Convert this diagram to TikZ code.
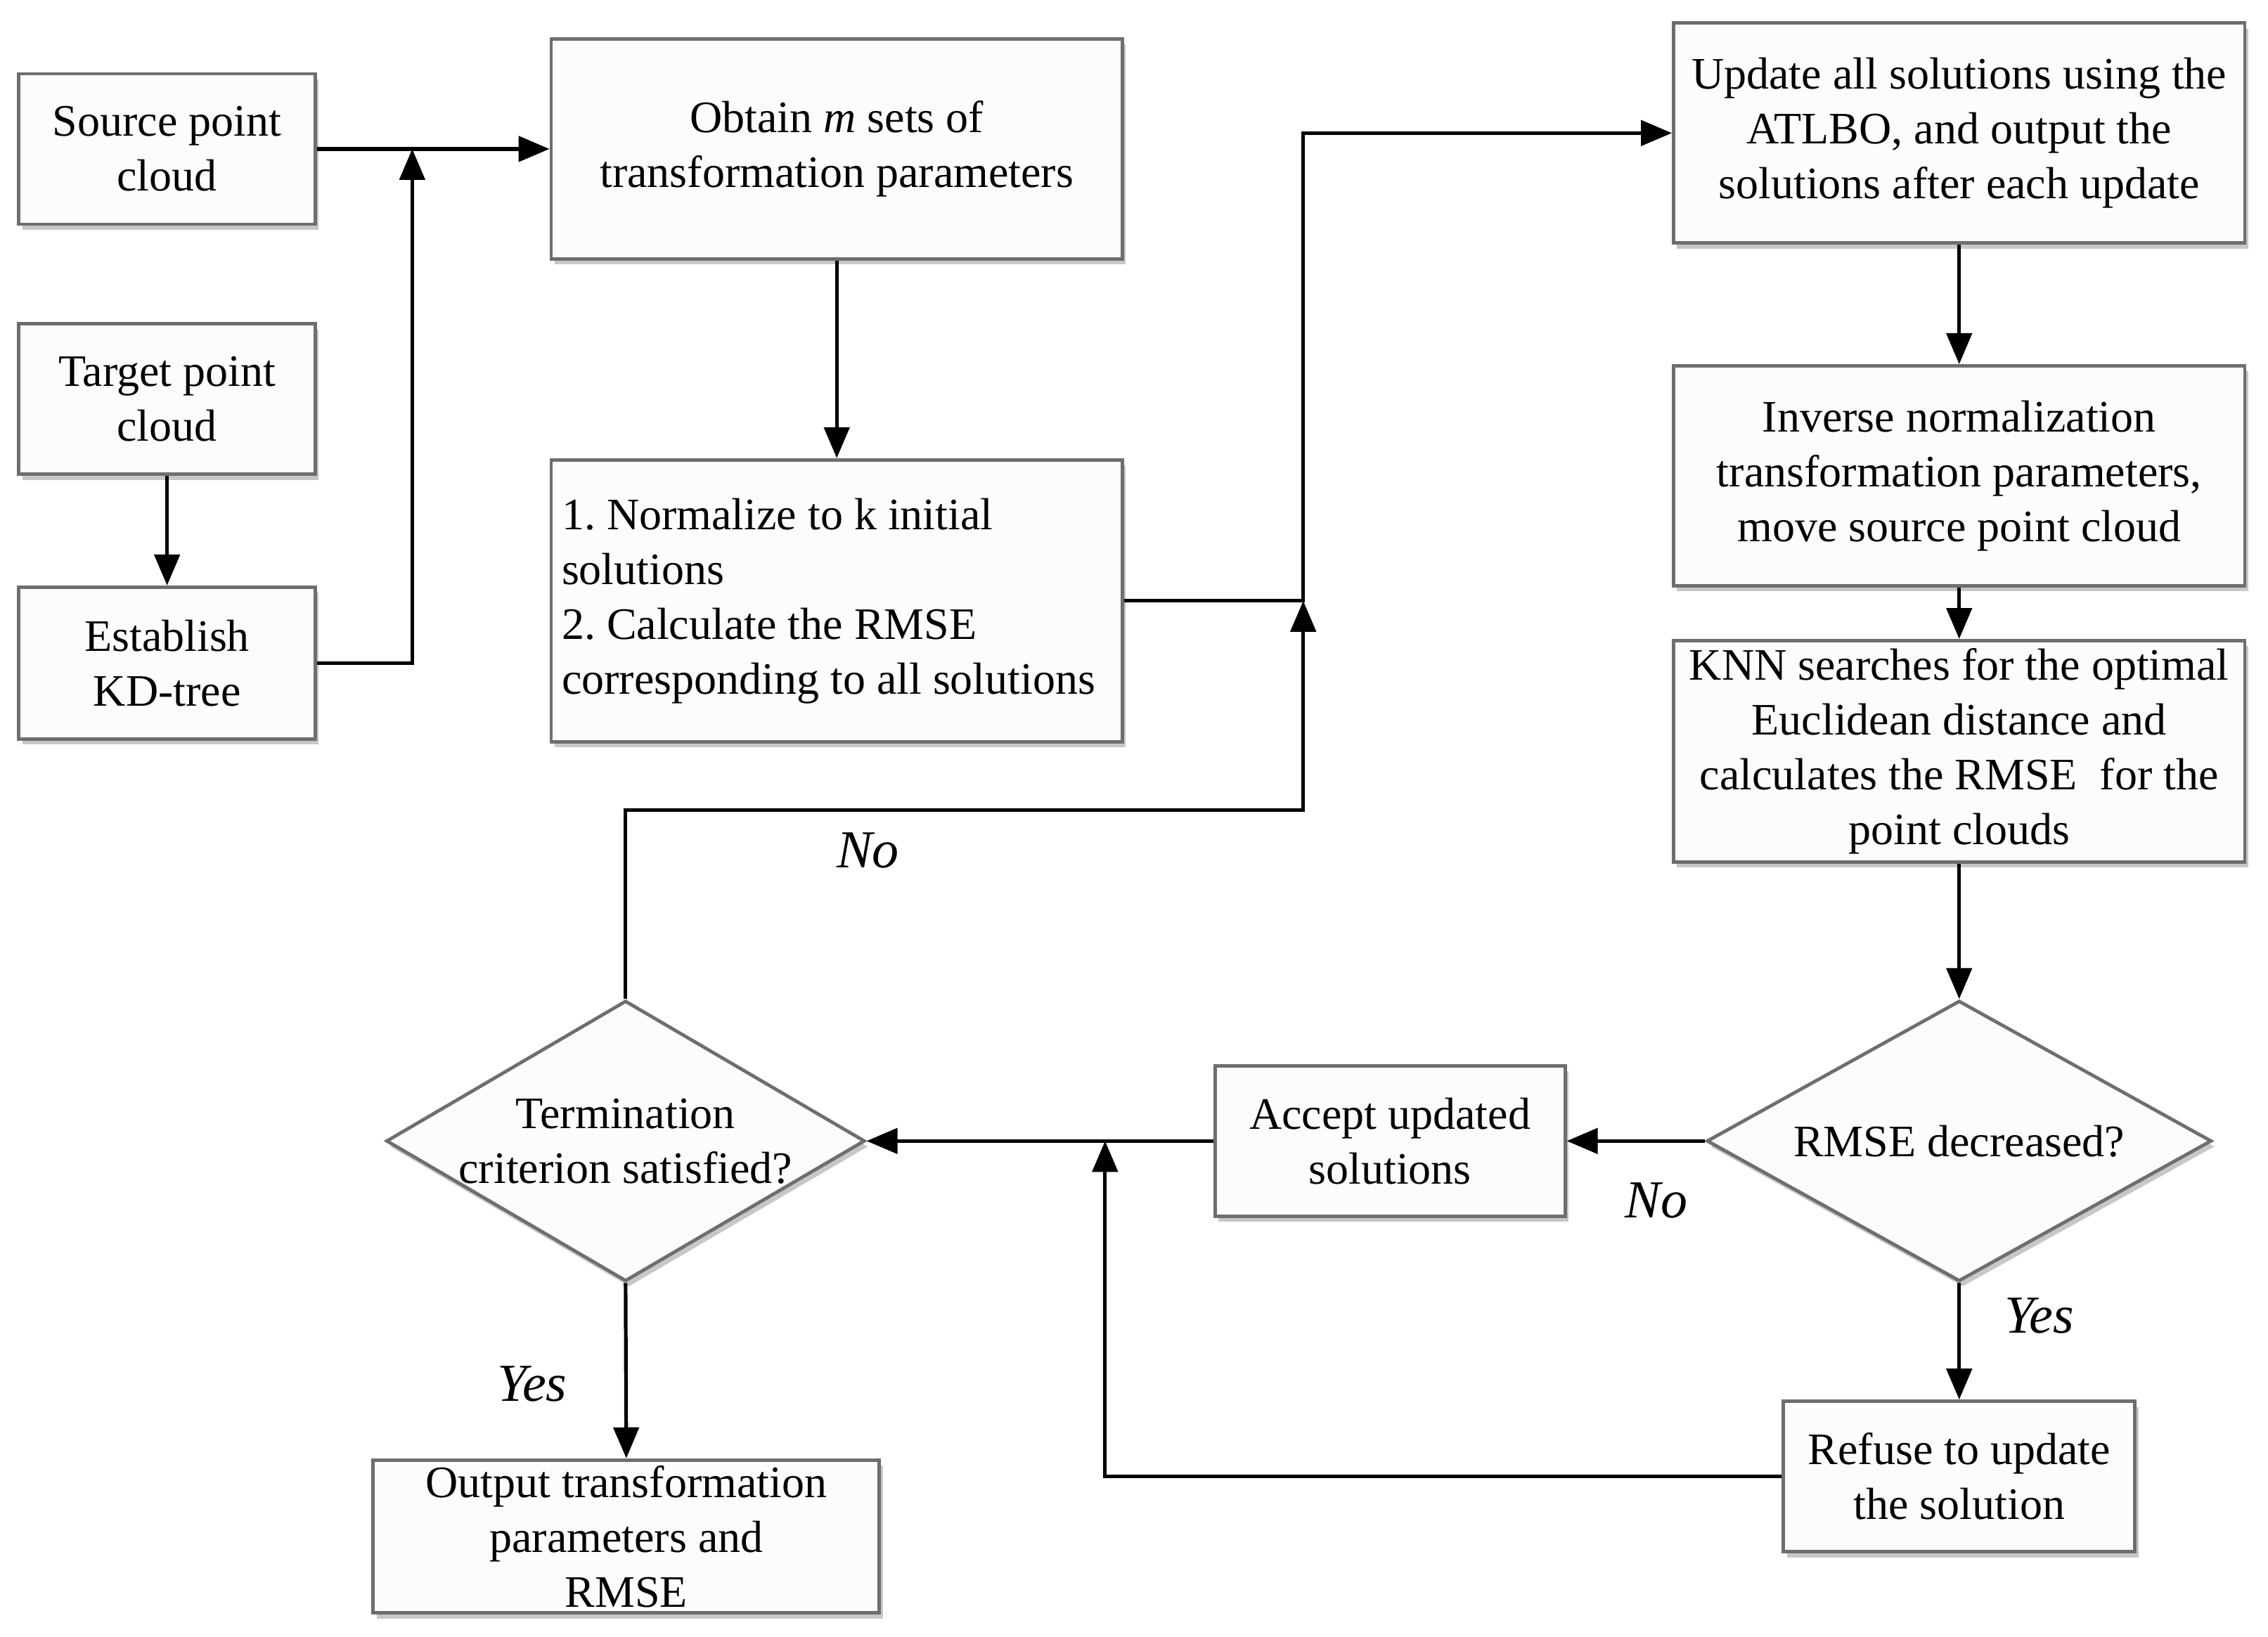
\documentclass[tikz,border=0pt]{standalone}
\usepackage{fontspec}
\setmainfont{Liberation Serif}
\usetikzlibrary{arrows.meta,shapes.geometric,shadows}
\definecolor{boxline}{HTML}{6E6E6E}
\definecolor{boxfill}{HTML}{FCFCFC}
\frenchspacing
\begin{document}
\begin{tikzpicture}[x=0.5143pt,y=-0.5143pt,
  every node/.style={font=\fontsize{16}{19.5}\selectfont},
  procbox/.style={rectangle,draw=boxline,line width=1.2pt,fill=boxfill,
    align=center,inner sep=2pt,
    drop shadow={shadow xshift=1.2pt,shadow yshift=-2pt,opacity=0.22,fill=black}},
  decbox/.style={diamond,draw=boxline,line width=1.2pt,fill=boxfill,inner sep=0pt,
    drop shadow={shadow xshift=1.2pt,shadow yshift=-2pt,opacity=0.22,fill=black}},
  arr/.style={draw=black,line width=1.3pt,-{Triangle[length=11pt,width=9pt]}},
  lbl/.style={font=\fontsize{19}{22}\selectfont\itshape}]
\useasboundingbox (0,0) rectangle (1568,1132);

% boxes
\node[procbox,minimum width=105.4pt,minimum height=53.5pt] (src) at (115.5,103) {Source point\\cloud};
\node[procbox,minimum width=105.4pt,minimum height=53.5pt] (tgt) at (115.5,276) {Target point\\cloud};
\node[procbox,minimum width=105.4pt,minimum height=54pt] (kd) at (115.5,458.5) {Establish\\KD-tree};
\node[procbox,minimum width=203.1pt,minimum height=78.2pt] (obt) at (578.5,103) {Obtain \textit{m} sets of\\transformation parameters};
\node[procbox,minimum width=203.1pt,minimum height=100.3pt] (norm) at (578.5,415.5) {};
\node[anchor=west,align=flush left,inner sep=0pt] (normtxt) at (388,415.5) {1. Normalize to k initial\\solutions\\2. Calculate the RMSE\\corresponding to all solutions};
\node[procbox,minimum width=203.1pt,minimum height=78.2pt] (upd) at (1354.5,92) {Update all solutions using the\\ATLBO, and output the\\solutions after each update};
\node[procbox,minimum width=203.1pt,minimum height=78.2pt] (inv) at (1354.5,329) {Inverse normalization\\transformation parameters,\\move source point cloud};
\node[procbox,minimum width=203.1pt,minimum height=78.7pt] (knn) at (1354.5,519.5) {KNN searches for the optimal\\Euclidean distance and\\calculates the RMSE~ for the\\point clouds};
\node[decbox,minimum width=179.5pt,minimum height=99.8pt] (rmse) at (1354.5,789) {};
\node (rmsetxt) at (1354.5,789) {RMSE decreased?};
\node[procbox,minimum width=124.5pt,minimum height=53.5pt] (acc) at (961,789) {Accept updated\\solutions};
\node[decbox,minimum width=170.2pt,minimum height=99.8pt] (term) at (432.5,789) {};
\node[align=center] (termtxt) at (432.5,789) {Termination\\criterion satisfied?};
\node[procbox,minimum width=180pt,minimum height=54pt] (out) at (433,1062.5) {Output transformation\\parameters and\\RMSE};
\node[procbox,minimum width=125pt,minimum height=53.5pt] (ref) at (1354.5,1021) {Refuse to update\\the solution};

% junction coordinates
\coordinate (j1) at (285,103);
\coordinate (j2) at (901,415.5);
\coordinate (c3) at (901,560);
\coordinate (j4) at (764,789);

% connectors
\draw[arr] (src.east) -- (obt.west);
\draw[arr] (kd.east) -| (j1);
\draw[arr] (tgt.south) -- (kd.north);
\draw[arr] (obt.south) -- (norm.north);
\draw[arr] (norm.east) -- (j2) |- (upd.west);
\draw[arr] (term.north) |- (c3) -- (j2);
\draw[arr] (upd.south) -- (inv.north);
\draw[arr] (inv.south) -- (knn.north);
\draw[arr] (knn.south) -- (rmse.north);
\draw[arr] (rmse.west) -- (acc.east);
\draw[arr] (acc.west) -- (term.east);
\draw[arr] (rmse.south) -- (ref.north);
\draw[arr] (ref.west) -| (j4);
\draw[arr] (term.south) -- (out.north);

% labels
\node[lbl] (no1) at (600,588) {No};
\node[lbl] (no2) at (1145,830) {No};
\node[lbl] (yes1) at (1410,910) {Yes};
\node[lbl] (yes2) at (368,957) {Yes};
\end{tikzpicture}
\end{document}
